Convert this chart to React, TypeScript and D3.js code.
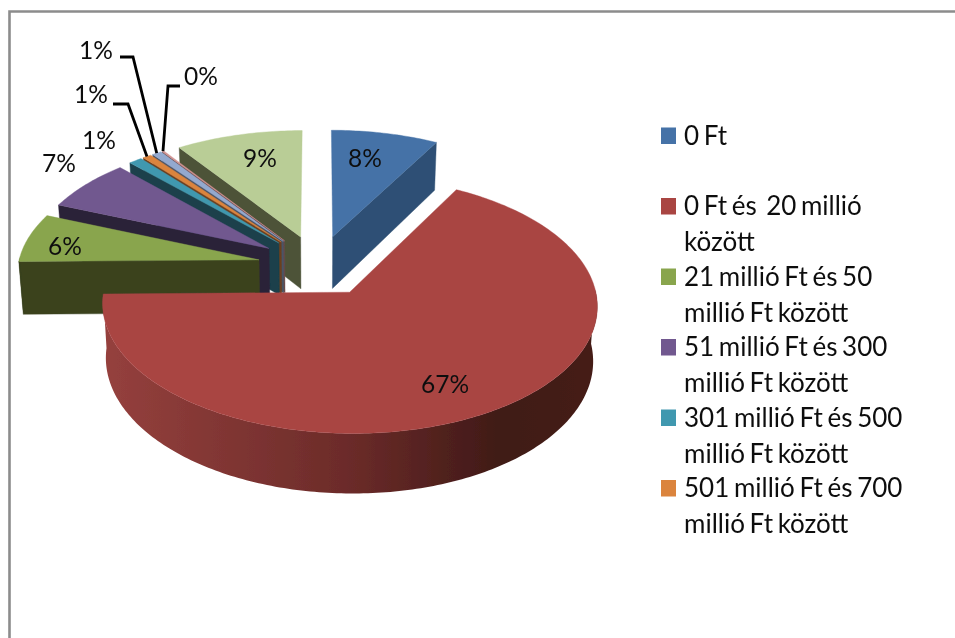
import * as d3 from 'd3'

// Share of each band, in the order Excel drew them (clockwise from 12 o'clock)
const values = [8, 66.7, 6.4, 6.8, 1, 0.65, 0.7, 0.15, 9.49]
const topColors = ['#4572a7', '#a94543', '#89a54e', '#71588f', '#4198af', '#db843d', '#93a9cf', '#d19392', '#b9cd96']
const wallColors = ['#2f5074', '#7a3331', '#3a421f', '#2c2238', '#1a3f4b', '#6b4020', '#4a5568', '#6a4a49', '#4d5339']
const legendLabels = [
  ['0 Ft'],
  ['0 Ft és  20 millió', 'között'],
  ['21 millió Ft és 50', 'millió Ft között'],
  ['51 millió Ft és 300', 'millió Ft között'],
  ['301 millió Ft és 500', 'millió Ft között'],
  ['501 millió Ft és 700', 'millió Ft között'],
]

const FONT = 'Lato, sans-serif'
const LEGEND_SIZE = 26
const LABEL_SIZE = 24.5

// Perspective set-up of the pie
const CX = 318
const CY = 265.5
const A = 241 // horizontal radius
const B = 122 // vertical radius
const K = 0.097 // perspective strength
const DEPTH = 53
const EXPLODE = 0.25

// Where each data label sits; elbow is set only for labels with a leader line
const labelLayout = [
  { x: 365, y: 167 },
  { x: 445, y: 393 },
  { x: 65, y: 255 },
  { x: 59, y: 172 },
  { x: 99, y: 149 },
  { x: 91, y: 103, elbow: [113, 128, 104] },
  { x: 96, y: 59, elbow: [120, 133, 57] },
  { x: 201, y: 85, elbow: [180, 168, 86] },
  { x: 260, y: 167 },
]

const project = (u: number, v: number, h = 0): [number, number] => {
  const w = 1 + K * v
  const shrink = 1 - 0.015 * h
  return [CX + (A * u * shrink) / w, CY - (B * v) / w + (DEPTH * h) / w]
}

const line = d3.line()
const pie = d3.pie<number>().sort(null)
const arcs = pie(values)

function buildSlice(a: d3.PieArcDatum<number>, i: number) {
  const mid = (a.startAngle + a.endAngle) / 2
  const ou = EXPLODE * Math.sin(mid)
  const ov = EXPLODE * Math.cos(mid)
  const rim = (t: number, h = 0) => project(ou + Math.sin(t), ov + Math.cos(t), h)
  const apex = (h = 0) => project(ou, ov, h)
  const n = Math.max(2, Math.ceil((a.endAngle - a.startAngle) * 60))
  const angles = d3.range(n + 1).map(k => a.startAngle + ((a.endAngle - a.startAngle) * k) / n)

  const top = line([apex(), ...angles.map(t => rim(t))]) + 'Z'
  const walls: string[] = []
  if (Math.sin(a.startAngle) < -1e-6) {
    walls.push(line([apex(), rim(a.startAngle), rim(a.startAngle, 1), apex(1)]) + 'Z')
  }
  if (Math.sin(a.endAngle) > 1e-6) {
    walls.push(line([apex(), rim(a.endAngle), rim(a.endAngle, 1), apex(1)]) + 'Z')
  }
  const front = angles.filter(t => Math.cos(t) < 0.02)
  const outer = front.length > 1
    ? line([...front.map(t => rim(t)), ...front.slice().reverse().map(t => rim(t, 1))]) + 'Z'
    : null
  return { i, mid, top, walls, outer, tip: rim(mid) }
}

// Back slices first, so the nearer ones paint over them
const slices = arcs
  .map(buildSlice)
  .sort((p, q) => d3.descending(Math.cos(p.mid), Math.cos(q.mid)))

const legendY = d3.scaleLinear().domain([0, 5]).range([144.5, 497])

export default function App() {
  return (
    <svg
      width={955}
      height={638}
      style={{ position: 'absolute', left: 0, top: 0, background: '#fff' }}
      fontFamily={FONT}
    >
      <defs>
        <linearGradient id="redWall" gradientUnits="userSpaceOnUse" x1={105} x2={597} y1={0} y2={0}>
          <stop offset="0" stopColor="#95403d" />
          <stop offset="0.5" stopColor="#6b2b29" />
          <stop offset="0.8" stopColor="#401a17" />
          <stop offset="1" stopColor="#451c19" />
        </linearGradient>
        <filter id="soft" x="-5%" y="-5%" width="110%" height="110%">
          <feGaussianBlur stdDeviation={0.6} />
        </filter>
      </defs>

      <g filter="url(#soft)">
        {/* chart frame, only top and left are in the crop */}
        <path d="M9.5,638V11.5H955" fill="none" stroke="#8c8c8c" strokeWidth={2.6} />

        {slices.map(s => (
          <g key={s.i}>
            {s.walls.map((d, k) => (
              <path key={k} d={d} fill={wallColors[s.i]} stroke={wallColors[s.i]} strokeWidth={0.4} />
            ))}
            {s.outer && (
              <path
                d={s.outer}
                fill={s.i === 1 ? 'url(#redWall)' : wallColors[s.i]}
                stroke="none"
              />
            )}
            <path d={s.top} fill={topColors[s.i]} stroke={topColors[s.i]} strokeWidth={0.4} />
          </g>
        ))}

        {labelLayout.map((l, i) => {
          const tip = slices.find(s => s.i === i)!.tip
          return (
            <g key={i}>
              {l.elbow && (
                <path
                  d={line([[l.elbow[0], l.elbow[2]], [l.elbow[1], l.elbow[2]], tip])!}
                  fill="none"
                  stroke="#000"
                  strokeWidth={2.8}
                />
              )}
              <text x={l.x} y={l.y} textAnchor="middle" fill="#111" fontSize={LABEL_SIZE}>
                {Math.round(values[i])}%
              </text>
            </g>
          )
        })}

        {legendLabels.map((lines, i) => (
          <g key={i}>
            <rect x={661} y={legendY(i) - 17} width={15} height={16.5} fill={topColors[i]} />
            {lines.map((t, k) => (
              <text
                key={k}
                x={684}
                y={legendY(i) + k * 36}
                fill="#111"
                fontSize={LEGEND_SIZE}
                wordSpacing={-2}
                style={{ whiteSpace: 'pre' }}
              >
                {t}
              </text>
            ))}
          </g>
        ))}
      </g>
    </svg>
  )
}
